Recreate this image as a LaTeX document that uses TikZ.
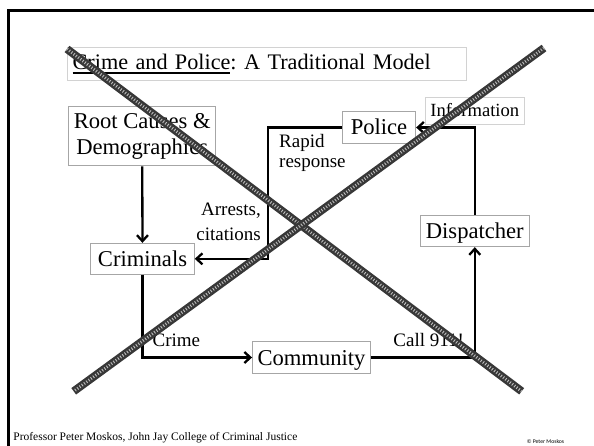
\documentclass[tikz,border=0pt]{standalone}
\usepackage{fontspec}
\setmainfont{Liberation Serif}
\newfontfamily\signfont{Carlito}
\usepackage{tikz}
\usetikzlibrary{positioning}
\usetikzlibrary{arrows.meta}
\newcommand{\ulbar}[1]{\setbox0\hbox{#1}\rlap{\rule[-4.3pt]{\wd0}{1.9pt}}\box0}
\frenchspacing

\begin{document}
\begin{tikzpicture}[x=1pt,y=-1pt,>={Straight Barb[length=6pt,width=11pt]},
  plainbox/.style={draw=gray!70,line width=0.9pt,inner xsep=5pt,font=\fontsize{22.6}{26}\selectfont},
  box/.style={plainbox,minimum height=31pt,text height=15pt,text depth=0pt},
  lbl/.style={inner sep=0pt,font=\fontsize{19}{20}\selectfont},
  flow/.style={->,line width=2.3pt},
  xbar/.style={line width=8pt,draw=black!78,postaction={draw=gray!50,line width=3pt,dash pattern=on 0.9pt off 1.9pt}}]
  \useasboundingbox (0,0) rectangle (594,446);
  \draw[line width=2.7pt] (8.7,446) -- (8.7,10.2) -- (594,10.2);
  \node (title) [plainbox,draw=gray!35,anchor=north west,minimum width=399pt,minimum height=33.3pt,text width=388pt,align=left,font=\fontsize{22.2}{26}\selectfont] at (66.7,46.7) {\ulbar{Crime and Police}: A Traditional Model};
  \node (root) [plainbox,align=center,minimum width=142.3pt,minimum height=59.3pt] at (142.2,136.3) {Root Causes \&\\Demographics};
  \node (criminals) [box,minimum width=103.6pt] at (142.5,258.8) {Criminals};
  \node (police) [box,minimum width=73.4pt,minimum height=31.6pt] at (379,127.5) {Police};
  \node (info) [box,draw=gray!35,minimum width=98.3pt,minimum height=26.7pt,text height=12.5pt,font=\fontsize{18.6}{22}\selectfont] at (474.8,110.7) {Information};
  \node (dispatcher) [box,minimum width=108.3pt] at (474.8,231.2) {Dispatcher};
  \node (community) [box,minimum width=118pt,minimum height=31.7pt] at (311.5,357.5) {Community};
  \coordinate (turn) at (268.3,127.5);
  \draw[flow] (root) -- (criminals);
  \draw[flow] (criminals) |- (community);
  \draw[flow] (community) -| (dispatcher);
  \draw[flow] (dispatcher) |- (police);
  \draw[flow] (police) -- (turn) |- (criminals);
  \node (rapid) [lbl,anchor=north west,align=left] at (279,134.6) {Rapid\\response};
  \node (arrests) [lbl,anchor=north east,align=right,font=\fontsize{19}{24.5}\selectfont] at (261,203) {Arrests,\\citations};
  \node (crime) [lbl,anchor=base west] at (152.4,346) {Crime};
  \node (call) [lbl,anchor=base west] at (393.2,346) {Call 911!};
  \node (prof) [inner sep=0pt,anchor=base west,font=\fontsize{11.5}{13}\selectfont] at (13.2,440) {Professor Peter Moskos, John Jay College of Criminal Justice};
  \node (sign) [inner sep=0pt,anchor=base west,font=\signfont\fontsize{5.7}{7}\selectfont] at (526.6,443.3) {© Peter Moskos};
  \coordinate (xa) at (67,49);
  \coordinate (xb) at (521.7,391.3);
  \coordinate (xc) at (544,48);
  \coordinate (xd) at (73.7,391.3);
  \draw[xbar] (xa) -- (xb);
  \draw[xbar] (xc) -- (xd);
\end{tikzpicture}
\end{document}
